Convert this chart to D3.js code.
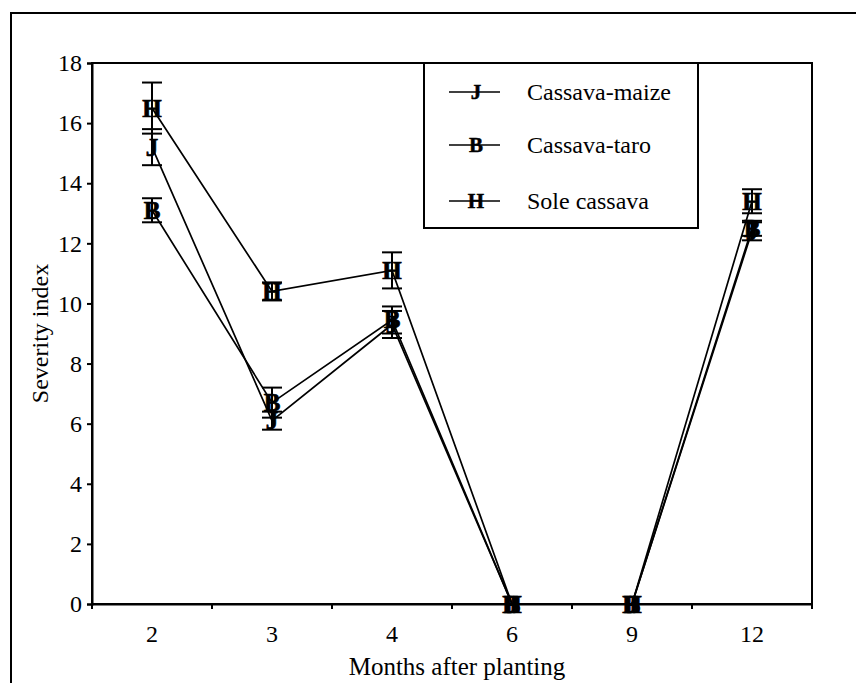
<!DOCTYPE html>
<html>
<head>
<meta charset="utf-8">
<script src="https://cdn.jsdelivr.net/npm/d3@7"></script>
<style>
  html, body { margin: 0; padding: 0; background: #fff; }
  svg { display: block; }
</style>
</head>
<body>
<svg id="chart" width="856" height="683"></svg>
<script>
// Disease severity index by months after planting, per cropping system
const months = ["2", "3", "4", "6", "9", "12"];
const yTicks = [0, 2, 4, 6, 8, 10, 12, 14, 16, 18];

const seriesNames = ["Cassava-maize", "Cassava-taro", "Sole cassava"];
const seriesSymbols = ["J", "B", "H"];

const maizeValues = [15.2, 6.1, 9.3, 0, 0, 12.4];
const taroValues  = [13.1, 6.7, 9.45, 0, 0, 12.5];
const soleValues  = [16.5, 10.4, 11.1, 0, 0, 13.4];

// standard errors
const maizeErr = [0.6, 0.3, 0.45, 0, 0, 0.3];
const taroErr  = [0.4, 0.5, 0.45, 0, 0, 0.25];
const soleErr  = [0.85, 0.3, 0.6, 0, 0, 0.4];

const series = [
  { name: seriesNames[0], symbol: seriesSymbols[0], values: maizeValues, err: maizeErr },
  { name: seriesNames[1], symbol: seriesSymbols[1], values: taroValues,  err: taroErr },
  { name: seriesNames[2], symbol: seriesSymbols[2], values: soleValues,  err: soleErr }
];

const FONT = "'Liberation Serif', 'Times New Roman', Times, serif";

const svg = d3.select("#chart").style("font-family", FONT);
const plot = { left: 92, right: 812, top: 63, bottom: 604 };

const x = d3.scaleBand().domain(months).range([plot.left, plot.right]).padding(0);
const y = d3.scaleLinear().domain([0, 18]).range([plot.bottom, plot.top]);
const cx = m => x(m) + x.bandwidth() / 2;

// outer frame (runs off the right and bottom edges)
svg.append("rect")
  .attr("x", 11).attr("y", 13).attr("width", 900).attr("height", 700)
  .attr("fill", "none").attr("stroke", "#000").attr("stroke-width", 2);

// plot box
svg.append("rect")
  .attr("x", plot.left).attr("y", plot.top)
  .attr("width", plot.right - plot.left).attr("height", plot.bottom - plot.top)
  .attr("fill", "none").attr("stroke", "#000").attr("stroke-width", 2);

// y axis
const yAxis = svg.append("g")
  .attr("transform", `translate(${plot.left},0)`)
  .call(d3.axisLeft(y).tickValues(yTicks).tickSize(5).tickPadding(5).tickFormat(d3.format("d")));
yAxis.attr("font-family", null).attr("font-size", null);
yAxis.select(".domain").attr("stroke-width", 2);
yAxis.selectAll(".tick line").attr("stroke-width", 2);
yAxis.selectAll("text").style("font-family", FONT).style("font-size", "24px").attr("fill", "#000");

// x axis: labels centred in each category, ticks on category boundaries
const xAxis = svg.append("g")
  .attr("transform", `translate(0,${plot.bottom})`)
  .call(d3.axisBottom(x).tickSize(0).tickPadding(21));
xAxis.attr("font-family", null).attr("font-size", null);
xAxis.select(".domain").attr("stroke-width", 2);
xAxis.selectAll("text").style("font-family", FONT).style("font-size", "24px").attr("fill", "#000");

const boundaries = d3.range(months.length + 1).map(i => plot.left + i * x.step());
svg.append("g").selectAll("line").data(boundaries).join("line")
  .attr("x1", d => d).attr("x2", d => d)
  .attr("y1", plot.bottom).attr("y2", plot.bottom + 5)
  .attr("stroke", "#000").attr("stroke-width", 2);

// axis titles
svg.append("text")
  .attr("x", 457).attr("y", 675)
  .attr("text-anchor", "middle")
  .style("font-family", FONT).style("font-size", "25px")
  .text("Months after planting");

svg.append("text")
  .attr("transform", `translate(48,${(plot.top + plot.bottom) / 2}) rotate(-90)`)
  .attr("text-anchor", "middle")
  .style("font-family", FONT).style("font-size", "24px")
  .text("Severity index");

// connecting lines
const line = d3.line().x((d, i) => cx(months[i])).y(d => y(d));
svg.append("g").selectAll("path").data(series).join("path")
  .attr("d", s => line(s.values))
  .attr("fill", "none").attr("stroke", "#000").attr("stroke-width", 1.7);

// error bars
const capHalf = 10;
series.forEach(s => {
  const g = svg.append("g").attr("stroke", "#000").attr("stroke-width", 2);
  s.values.forEach((v, i) => {
    const e = s.err[i];
    if (!e) return;
    const px = cx(months[i]);
    g.append("line").attr("x1", px).attr("x2", px).attr("y1", y(v - e)).attr("y2", y(v + e));
    g.append("line").attr("x1", px - capHalf).attr("x2", px + capHalf).attr("y1", y(v + e)).attr("y2", y(v + e));
    g.append("line").attr("x1", px - capHalf).attr("x2", px + capHalf).attr("y1", y(v - e)).attr("y2", y(v - e));
  });
});

// point markers (letter glyphs)
series.forEach(s => {
  svg.append("g").selectAll("text").data(s.values).join("text")
    .attr("x", (d, i) => cx(months[i]))
    .attr("y", d => y(d) + 8.5)
    .attr("text-anchor", "middle")
    .style("font-family", FONT).style("font-size", "25px").style("font-weight", "bold")
    .attr("fill", "#000").attr("stroke", "#000").attr("stroke-width", 0.7)
    .text(s.symbol);
});

// legend
const legend = svg.append("g");
legend.append("rect")
  .attr("x", 424).attr("y", plot.top).attr("width", 274).attr("height", 165)
  .attr("fill", "#fff").attr("stroke", "#000").attr("stroke-width", 2);
const rowY = [92, 145, 201];
series.forEach((s, i) => {
  const ry = rowY[i];
  legend.append("line").attr("x1", 449).attr("x2", 500).attr("y1", ry).attr("y2", ry)
    .attr("stroke", "#000").attr("stroke-width", 1.7);
  legend.append("text").attr("x", 476).attr("y", ry + 7).attr("text-anchor", "middle")
    .style("font-family", FONT).style("font-size", "21px").style("font-weight", "bold")
    .attr("fill", "#000").attr("stroke", "#000").attr("stroke-width", 0.5).text(s.symbol);
  legend.append("text").attr("x", 527).attr("y", ry + 8)
    .style("font-family", FONT).style("font-size", "24px")
    .attr("fill", "#000").text(s.name);
});
</script>
</body>
</html>
